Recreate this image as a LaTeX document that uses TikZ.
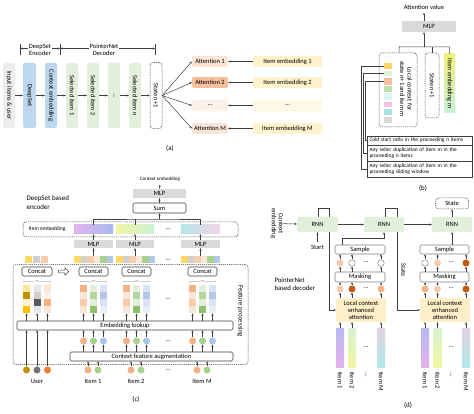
\documentclass[tikz,border=0pt]{standalone}
\usepackage{fontspec}
\setmainfont{Carlito}
\usetikzlibrary{arrows.meta,backgrounds,decorations.pathreplacing,shapes.arrows}
\definecolor{lc}{HTML}{3F3F3F}
\definecolor{bg}{HTML}{7F7F7F}
\definecolor{mlpg}{HTML}{D9D9D9}
\definecolor{blu}{HTML}{BDD7EE}
\definecolor{grn}{HTML}{E2EFDA}
\definecolor{inpg}{HTML}{EDEDED}
\definecolor{pch}{HTML}{FBE5D6}
\definecolor{pchb}{HTML}{F6C09E}
\definecolor{pchc}{HTML}{FDF2EA}
\definecolor{ylw}{HTML}{FFF2CC}
\definecolor{ylwb}{HTML}{FFF8E6}
\definecolor{attc}{HTML}{FFEFC8}
\definecolor{lor}{HTML}{F8CBAD}
\definecolor{mor}{HTML}{F4B183}
\definecolor{dor}{HTML}{C55A11}
\definecolor{sqy}{HTML}{FFD966}
\definecolor{sqg}{HTML}{D0CECE}
\definecolor{sqp}{HTML}{F8CBAD}
\definecolor{sqlp}{HTML}{FBE5D6}
\definecolor{sqgr}{HTML}{A9D18E}
\definecolor{sqb}{HTML}{B4C7E7}
\definecolor{ba}{HTML}{FFD264}
\definecolor{bb}{HTML}{E2EFDA}
\definecolor{bc}{HTML}{F6BEA0}
\definecolor{bd}{HTML}{BEDEAA}
\definecolor{be}{HTML}{DDF4F6}
\definecolor{bf}{HTML}{F8C0E8}
\definecolor{bgc}{HTML}{A8E4E4}
\definecolor{bh}{HTML}{D9D9D9}
\definecolor{uya}{HTML}{FFE699}
\definecolor{uyb}{HTML}{BF9000}
\definecolor{uyc}{HTML}{FFF2CC}
\definecolor{uyd}{HTML}{FFC000}
\definecolor{uga}{HTML}{E7E6E6}
\definecolor{ugb}{HTML}{D0CECE}
\definecolor{ugc}{HTML}{595959}
\definecolor{upa}{HTML}{FBE5D6}
\definecolor{upb}{HTML}{FDF0E7}
\definecolor{ioa}{HTML}{F4B183}
\definecolor{iob}{HTML}{FBE5D6}
\definecolor{ioc}{HTML}{F8CBAD}
\definecolor{iga}{HTML}{E2EFDA}
\definecolor{igb}{HTML}{B5D69C}
\definecolor{igc}{HTML}{8CC06A}
\definecolor{iba}{HTML}{DAE3F3}
\definecolor{ibb}{HTML}{B4C7E7}
\definecolor{ibc}{HTML}{E9EEF8}
\definecolor{cgr}{HTML}{A9D18E}
\definecolor{cbl}{HTML}{A9C4EA}
\definecolor{ugd}{HTML}{767171}
\definecolor{uor}{HTML}{ED7D31}
\definecolor{gpa}{HTML}{E2B4F0}
\definecolor{gpb}{HTML}{A9B9EE}
\definecolor{gya}{HTML}{F2F5A0}
\definecolor{gyb}{HTML}{C9F0D5}
\definecolor{gca}{HTML}{B4E8E8}
\definecolor{gcb}{HTML}{F2D4E8}
\definecolor{dpa}{HTML}{B9B8F2}
\definecolor{dpb}{HTML}{E2B2EC}
\definecolor{dya}{HTML}{D6F3D2}
\definecolor{dyb}{HTML}{F2F5A0}
\definecolor{dma}{HTML}{E0D2E2}
\definecolor{dmb}{HTML}{B0E8E8}
\definecolor{iea}{HTML}{F0F07A}
\definecolor{ieb}{HTML}{C8F0D8}
\newcommand\fsz[2]{\fontsize{#1}{#2}\selectfont}
\newcommand\colstack[5]{%
  \fill[#2] (#1,285) rectangle ++(7,7);
  \fill[#3] (#1,292) rectangle ++(7,7);
  \fill[#4] (#1,299) rectangle ++(7,7);
  \fill[#5] (#1,306) rectangle ++(7,7);}
\begin{document}
\begin{tikzpicture}[x=1pt,y=-1pt,font=\fsz{6.5}{7},line join=round]
\tikzset{
 ar/.style={draw=lc, line width=0.5pt, -{Stealth[length=2.4pt,width=2.2pt]}},
 arr/.style={draw=lc, line width=0.5pt, {Stealth[length=2.4pt,width=2.2pt]}-{Stealth[length=2.4pt,width=2.2pt]}},
 ln/.style={draw=lc, line width=0.5pt},
 vb/.style={rounded corners=1.5pt, inner sep=0, minimum width=12, minimum height=65},
 fb/.style={rounded corners=1.5pt, inner sep=0},
 rb/.style={draw=bg, fill=white, rounded corners=1.5pt, inner sep=0, line width=0.6pt},
 db/.style={draw=lc, dashed, dash pattern=on 1.2pt off 0.9pt, rounded corners=3pt, inner sep=0, line width=0.5pt},
 cc/.style={circle, inner sep=0, minimum size=7},
 wc/.style={circle, inner sep=0, minimum size=6.5, draw=bg, fill=white, line width=0.5pt},
 vt/.style={rotate=-90, inner sep=0},
 gb/.style={fill=mlpg, inner sep=0},
 sq/.style={inner sep=0, minimum width=8},
 tb/.style={draw=lc, line width=0.5pt, inner xsep=2pt, inner ysep=0.5pt, text width=100.5pt, align=left, font=\fsz{5.4}{6.6}},
}
\useasboundingbox (0,0) rectangle (474,414);

%================ (a) ================
\node[vb, fill=inpg] (in) at (9,95.5) {};
\node[vt] (tin) at (in) {Input items \& user};
\node[vb, fill=blu, minimum width=13] (ds) at (29.5,95.5) {};
\node[vt] (tds) at (ds) {DeepSet};
\node[vb, fill=blu] (ce) at (51,95.5) {};
\node[vt] (tce) at (ce) {Context embedding};
\node[vb, fill=grn] (s1) at (72,95.5) {};
\node[vt] (ts1) at (s1) {Selected item 1};
\node[vb, fill=grn] (s2) at (93,95.5) {};
\node[vt] (ts2) at (s2) {Selected item 2};
\node[vb, fill=grn] (sd) at (114,95.5) {};
\node[vt] (tsd) at (sd) {\ldots};
\node[vb, fill=grn] (sn) at (135,95.5) {};
\node[vt] (tsn) at (sn) {Selected item n};
\node[vb, db, fill=white, minimum height=66] (st) at (156,95.5) {};
\node[vt] (tst) at (st) {State n+1};
\foreach \a/\b in {in/ds, ds/ce, ce/s1, s1/s2, s2/sd, sd/sn, sn/st} \draw[ar] (\a) -- (\b);

\coordinate (k1) at (20,48.5); \coordinate (k2) at (60,48.5); \coordinate (k3) at (155,48.5);
\foreach \k in {k1,k2,k3} \draw[ln] ([yshift=-7pt]\k) -- ([yshift=4.5pt]\k);
\draw[arr] (k1) -- (k2);
\draw[arr] (k2) -- (k3);
\node[fill=white, align=center, inner sep=0.6pt] (lenc) at (40,49.5) {DeepSet\\Encoder};
\node[fill=white, align=center, inner sep=0.6pt] (ldec) at (104,49.5) {PointerNet\\Decoder};

\node[fb, fill=pch,  minimum width=36, minimum height=11] (at1) at (210,61.5) {Attention 1};
\node[fb, fill=pchb, minimum width=36, minimum height=11] (at2) at (210,82.5) {Attention 2};
\node[fb, fill=pchc, minimum width=36, minimum height=12] (atd) at (210,105.5) {\ldots};
\node[fb, fill=pch,  minimum width=36, minimum height=11] (atm) at (210,128.5) {Attention M};
\node[fb, fill=ylw,  minimum width=69, minimum height=11] (ie1) at (287.5,61.5) {Item embedding 1};
\node[fb, fill=ylw,  minimum width=69, minimum height=11] (ie2) at (287.5,82.5) {Item embedding 2};
\node[fb, fill=ylwb, minimum width=69, minimum height=12] (ied) at (287.5,105.5) {\ldots};
\node[fb, fill=ylw,  minimum width=69, minimum height=11] (iem) at (287.5,128.5) {Item embedding M};
\foreach \t in {at1,at2,atd,atm} \draw[ar] (st.east) -- (\t.west);
\draw[ar] (ie1) -- (at1); \draw[ar] (ie2) -- (at2); \draw[ar] (ied) -- (atd); \draw[ar] (iem) -- (atm);
\node[font=\fsz{7}{8}] (la) at (170,148) {(a)};

%================ (b) ================
\node (av) at (424,7) {Attention value};
\node[gb, minimum width=54, minimum height=11] (bmlp) at (429,26.5) {MLP};
\coordinate (bj) at (424,47);
\draw[ar] (bj |- bmlp.north) -- (av.south);
\node[db, minimum width=38, minimum height=74] (lcx) at (398,90) {};
\node[db, minimum width=14, minimum height=65] (bst) at (432,85.5) {};
\node[vt] (tbst) at (bst) {State n+1};
\node[inner sep=0, minimum width=11, minimum height=59, top color=iea, bottom color=ieb] (bie) at (449.5,83.5) {};
\node[vt] (tbie) at (bie) {Item embedding m};
\draw[ln] (lcx.north -| bj) ++(-25,0) -- ++(0,-6) -- (bj -| bie.north) -- (bie.north);
\draw[ln] (bst.north) -- (bst.north |- bj);
\draw[ar] (bj) -- (bj |- bmlp.south);
\node[sq, fill=ba, minimum height=6]   (q1) at (388,66) {};
\node[sq, fill=bb, minimum height=5.5] (q2) at (388,73.5) {};
\node[sq, fill=bc, minimum height=6.5] (q3) at (388,81.5) {};
\node[sq, fill=bd, minimum height=6]   (q4) at (388,89) {};
\node[sq, fill=be, minimum height=6.5] (q5) at (388,96.5) {};
\node[sq, fill=bf, minimum height=5.5] (q6) at (388,104.5) {};
\node[sq, fill=bgc, minimum height=6]  (q7) at (388,112) {};
\node[sq, fill=bh, minimum height=6]   (q8) at (388,120) {};
\node[vt, align=center, font=\fsz{6.5}{7.5}] (tlcx) at (406,89) {Local context for\\state n+1 and item m};
\node[tb, minimum height=9]  (bx1) at (419.75,140.5) {Cold start ratio in the proceeding n items};
\node[tb, minimum height=16] (bx2) at (419.75,153) {Any seller duplication of item m in the\\proceeding n items};
\node[tb, minimum height=16] (bx3) at (419.75,169) {Any seller duplication of item m in the\\proceeding sliding window};
\draw[ln] (q1.west) -| ([xshift=-6pt]bx3.west) -- (bx3.west);
\draw[ln] (q2.west) -| ([xshift=-4pt]bx2.west) -- (bx2.west);
\draw[ln] (q3.west) -| ([xshift=-2pt]bx1.west) -- (bx1.west);
\node[font=\fsz{7}{8}] (lb) at (423,188) {(b)};

%================ (c) ================
\node[font=\fsz{5}{5.5}] (cemb) at (160,179) {Context embedding};
\node[gb, minimum width=53, minimum height=9] (cmlp) at (159.5,193.5) {MLP};
\node[rb, minimum width=53, minimum height=10, draw=lc] (csum) at (159.5,208) {Sum};
\draw[ar] (cmlp) -- (cemb);
\draw[ar] (csum) -- (cmlp);
\node[align=left, anchor=west, font=\fsz{7}{8.5}] (cdse) at (23,202.5) {DeepSet based\\encoder};
\node[db, minimum width=215, minimum height=15] (cie) at (130.5,229.5) {};
\node[font=\fsz{5.5}{6}] (tcie) at (47,229.5) {Item embedding};
\node[inner sep=0, minimum width=39, minimum height=9, left color=gpa, right color=gpb] (cb1) at (93.5,229.5) {};
\node[inner sep=0, minimum width=38, minimum height=9, left color=gya, right color=gyb] (cb2) at (135,229.5) {};
\node[inner sep=0, minimum width=39, minimum height=9, left color=gca, right color=gcb] (cb3) at (200.5,229.5) {};
\node (cbd) at (168,229) {\ldots};
\coordinate (cj) at (159.5,219);
\draw[ln] (cb1.north) |- (cj) -| (cb3.north);
\draw[ln] (cb2.north) -- (cb2.north |- cj);
\draw[ar] (cj) -- (csum);
\node[gb, minimum width=39, minimum height=8] (cm1) at (93.5,244) {MLP};
\node[gb, minimum width=38, minimum height=8] (cm2) at (135,244) {MLP};
\node[gb, minimum width=39, minimum height=8] (cm3) at (200.5,244) {MLP};
\draw[ar] (cm1) -- (cb1); \draw[ar] (cm2) -- (cb2); \draw[ar] (cm3) -- (cb3);
% square rows
\foreach \i/\c in {0/sqy,1/sqg,2/sqp} \fill[\c] (25+\i*8,256) rectangle ++(7,7);
\foreach \gx in {74,116,181}{
  \foreach \i/\c in {0/sqy,1/sqg,2/sqp,3/sqlp,4/sqgr,5/sqb} \fill[\c] (\gx+\i*6.5,256) rectangle ++(6.5,7);}
\coordinate (cr1) at (93.5,256); \coordinate (cr2) at (135,256); \coordinate (cr3) at (200.5,256);
\draw[ar] (cr1) -- (cm1); \draw[ar] (cr2) -- (cm2); \draw[ar] (cr3) -- (cm3);
\node (csd) at (168,260) {\ldots};
% feature processing
\node[db, minimum width=235, minimum height=100] (cfp) at (130.5,314.5) {};
\node[vt, font=\fsz{6.8}{8}] (tcfp) at (240.5,311) {Feature processing};
\node[rb, draw=lc, minimum width=30, minimum height=9] (cc0) at (37,271.5) {Concat};
\node[single arrow, draw=lc, fill=white, line width=0.5pt, minimum height=10, minimum width=7.5, single arrow head extend=1.6pt, inner sep=0.6pt] (carw) at (63,271.5) {};
\node[rb, draw=lc, minimum width=29, minimum height=9] (cc1) at (93.5,271.5) {Concat};
\node[rb, draw=lc, minimum width=29, minimum height=9] (cc2) at (136.5,271.5) {Concat};
\node[rb, draw=lc, minimum width=29, minimum height=9] (cc3) at (202.5,271.5) {Concat};
\foreach \xa/\xb in {23/51,80/107,123/150,189/216}
  \draw[draw=bg, line width=0.4pt, decorate, decoration={brace, amplitude=1.6pt}] (\xa,282) -- (\xb,282);
\colstack{23}{uya}{uyb}{uyc}{uyd}
\colstack{33.5}{uga}{ugb}{ugc}{uga}
\colstack{44}{upa}{upb}{mor}{upa}
\foreach \gx in {80,123,189}{
  \colstack{\gx}{ioa}{iob}{ioc}{iob}
  \colstack{\gx+10}{iga}{igb}{iga}{igc}
  \colstack{\gx+20}{iba}{ibb}{iba}{ibc}}
\node (ccd) at (168,299) {\ldots};
\node[rb, draw=lc, minimum width=216, minimum height=9] (clk) at (125,325.5) {Embedding lookup};
\node[rb, draw=lc, minimum width=163, minimum height=9] (caug) at (151.5,356.5) {Context feature augmentation};
\foreach \x in {26.5,37,47.5,83.5,93.5,103.5,126.5,136.5,146.5,192.5,202.5,212.5}
  \draw[ar] (\x,321) -- (\x,313.3);
\foreach \gx/\n in {83.5/a,126.5/b,192.5/c}{
  \node[cc, fill=mor] (e\n1) at (\gx,341) {};
  \node[cc, fill=cgr] (e\n2) at (\gx+10,341) {};
  \node[cc, fill=cbl] (e\n3) at (\gx+20,341) {};
  \foreach \k in {1,2,3}{
    \draw[ar] (e\n\k) -- (e\n\k |- clk.south);
    \draw[ar] (e\n\k |- caug.north) -- (e\n\k);}}
\node (ced) at (168,341) {\ldots};
\node[cc, fill=uyb] (u1) at (26.5,370) {};
\node[cc, fill=ugd] (u2) at (37,370) {};
\node[cc, fill=uor] (u3) at (47.5,370) {};
\foreach \k in {u1,u2,u3} \draw[ar] (\k) -- (\k |- clk.south);
\foreach \x/\n in {88/i1,131/i2,197/im}{
  \node[cc, fill=mor] (\n a) at (\x,370) {};
  \node[cc, fill=cgr] (\n b) at (\x+10,370) {};
  \draw[ar] (\n a) -- (\n a |- caug.south);
  \draw[ar] (\n b) -- (\n b |- caug.south);}
\node (cid) at (168,370) {\ldots};
\node (lu) at (37,381) {User};
\node (li1) at (93,381) {Item 1};
\node (li2) at (136,381) {Item 2};
\node (lim) at (202,381) {Item M};
\node[font=\fsz{7}{8}] (lc) at (136,399) {(c)};

%================ (d) ================
\node[vt, align=center] (dce) at (277,223.5) {Context\\embedding};
\node[fb, fill=grn, minimum width=41, minimum height=15] (r1) at (317.5,224.5) {RNN};
\node[fb, fill=grn, minimum width=40, minimum height=15] (r2) at (384,224.5) {RNN};
\node[fb, fill=grn, minimum width=40, minimum height=15] (r3) at (452,224.5) {RNN};
\node[db, minimum width=33, minimum height=11] (dst) at (452,203.5) {State};
\draw[ar] (dce) -- (r1);
\draw[ar] (r1) -- (r2);
\draw[ar] (r2) -- (r3);
\draw[ar] (r3) -- (dst);
\node (dstart) at (317.5,247.5) {Start};
\draw[ar] (dstart) -- (r1);
\node[align=left, anchor=west, font=\fsz{6.8}{8}] (dpn) at (271,284) {PointerNet\\based decoder};
\node[vt] (dstl) at (403.5,270) {State};
\node[rb, minimum width=50, minimum height=9] (sa1) at (360,249.5) {Sample};
\node[rb, minimum width=50, minimum height=10] (ma1) at (360,277) {Masking};
\node[fb, fill=attc, minimum width=50, minimum height=24, align=center] (a1) at (361,310) {Local context\\enhanced\\attention};
\node[rb, minimum width=49, minimum height=9] (sa2) at (444.5,249.5) {Sample};
\node[rb, minimum width=49, minimum height=10] (ma2) at (444.5,277) {Masking};
\node[fb, fill=attc, minimum width=50, minimum height=24, align=center] (a2) at (445,310) {Local context\\enhanced\\attention};
\begin{scope}[on background layer]
\draw[ar] ([xshift=0.5pt]r1.north) -- ++(0,-9) -- ++(11,0) -- (329,310) -- (a1.west);
\draw[ar] ([xshift=1pt]r2.north) -- ++(0,-9) -- ++(12,0) -- (397,310) -- (a2.west);
\end{scope}
\draw[ar] ([xshift=-18pt]sa1.north) -- ++(0,-6) -| (r2.south);
\draw[ar] (sa2.north -| r3.south) -- (r3.south);
\node[cc, fill=lor] (p11) at (340,263) {};
\node[wc] (p12) at (352,263) {};
\node[wc] (p13) at (381,263) {};
\node[cc, fill=lor] (p21) at (340,289) {};
\node[cc, fill=dor] (p22) at (352,289) {};
\node[cc, fill=mor] (p23) at (381,289) {};
\node (pd1) at (366,262) {\ldots};
\node (pd2) at (366,288) {\ldots};
\node[wc] (o11) at (425,263) {};
\node[cc, fill=lor] (o12) at (437.5,263) {};
\node[cc, fill=dor] (o13) at (466,263) {};
\node[cc, fill=mor] (o21) at (425,289) {};
\node[cc, fill=lor] (o22) at (437.5,289) {};
\node[cc, fill=dor] (o23) at (466,289) {};
\node (od1) at (451,262) {\ldots};
\node (od2) at (451,288) {\ldots};
\foreach \p/\s/\m in {p11/sa1/ma1,p12/sa1/ma1,p13/sa1/ma1,o11/sa2/ma2,o12/sa2/ma2,o13/sa2/ma2}{
  \draw[ar] (\p) -- (\p |- \s.south);
  \draw[ar] (\p |- \m.north) -- (\p);}
\foreach \p/\m/\a in {p21/ma1/a1,p22/ma1/a1,p23/ma1/a1,o21/ma2/a2,o22/ma2/a2,o23/ma2/a2}{
  \draw[ar] (\p) -- (\p |- \m.south);
  \draw[ar] (\p |- \a.north) -- (\p);}
\foreach \x/\n/\ca/\cb in {340/b11/dpa/dpb,352/b12/dya/dyb,381/b13/dma/dmb,425/b21/dpa/dpb,437.5/b22/dya/dyb,466/b23/dma/dmb}{
  \node[inner sep=0, minimum width=8, minimum height=39, top color=\ca, bottom color=\cb] (\n) at (\x,347.5) {};}
\foreach \n in {b11,b12,b13} \draw[ar] (\n) -- (\n |- a1.south);
\foreach \n in {b21,b22,b23} \draw[ar] (\n) -- (\n |- a2.south);
\node (bd1) at (366,347) {\ldots};
\node (bd2) at (451,347) {\ldots};
\foreach \x/\t in {340/Item 1,352/Item 2,366/\ldots,381/Item M,425/Item 1,437.5/Item 2,451/\ldots,466/Item M}
  \node[vt, anchor=west] at (\x,372) {\t};
\node[font=\fsz{7}{8}] (ld) at (408,405) {(d)};
\end{tikzpicture}
\end{document}
